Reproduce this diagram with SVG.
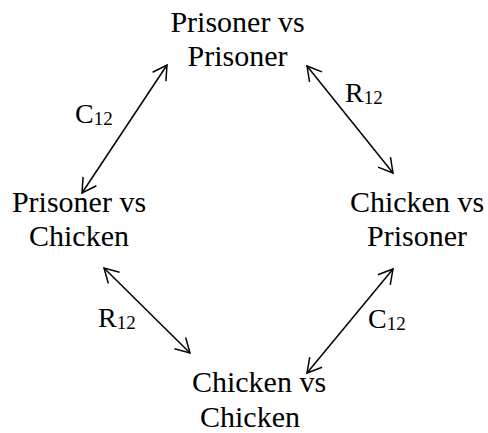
<svg xmlns="http://www.w3.org/2000/svg" width="488" height="433" viewBox="0 0 488 433">
<defs>
<style>
.t{font-family:"Liberation Serif","Times New Roman",serif;font-size:30px;fill:#000;text-anchor:middle}
.l{font-family:"Liberation Serif","Times New Roman",serif;font-size:28px;fill:#000}
.s{font-size:19px}
.c{stroke:#000;stroke-width:1.5;fill:none;marker-start:url(#ah);marker-end:url(#ah)}
</style>
<marker id="ah" viewBox="-16 -10 18 20" markerWidth="18" markerHeight="20" refX="0" refY="0" orient="auto-start-reverse" markerUnits="userSpaceOnUse">
<path d="M-14,-8 L0,0 L-14,8" fill="none" stroke="#000" stroke-width="1.5"/>
</marker>
</defs>
<rect width="488" height="433" fill="#fff"/>
<g id="pp"><text class="t" x="237.5" y="32">Prisoner vs</text><text class="t" x="237.5" y="65.5">Prisoner</text></g>
<g id="pc"><text class="t" x="79" y="212">Prisoner vs</text><text class="t" x="79" y="246">Chicken</text></g>
<g id="cp"><text class="t" x="417" y="212">Chicken vs</text><text class="t" x="417" y="246">Prisoner</text></g>
<g id="cc"><text class="t" x="259" y="392">Chicken vs</text><text class="t" x="250" y="427">Chicken</text></g>
<g id="connectors">
<line class="c" x1="82" y1="193" x2="167" y2="65"/>
<line class="c" x1="307" y1="66" x2="393" y2="173"/>
<line class="c" x1="104" y1="268" x2="190" y2="353"/>
<line class="c" x1="393" y1="269" x2="307" y2="373"/>
<text class="l" x="75" y="123">C<tspan class="s" dy="2">12</tspan></text>
<text class="l" x="345" y="102">R<tspan class="s" dy="2">12</tspan></text>
<text class="l" x="98" y="327">R<tspan class="s" dy="2">12</tspan></text>
<text class="l" x="368" y="328">C<tspan class="s" dy="2">12</tspan></text>
</g>
</svg>
